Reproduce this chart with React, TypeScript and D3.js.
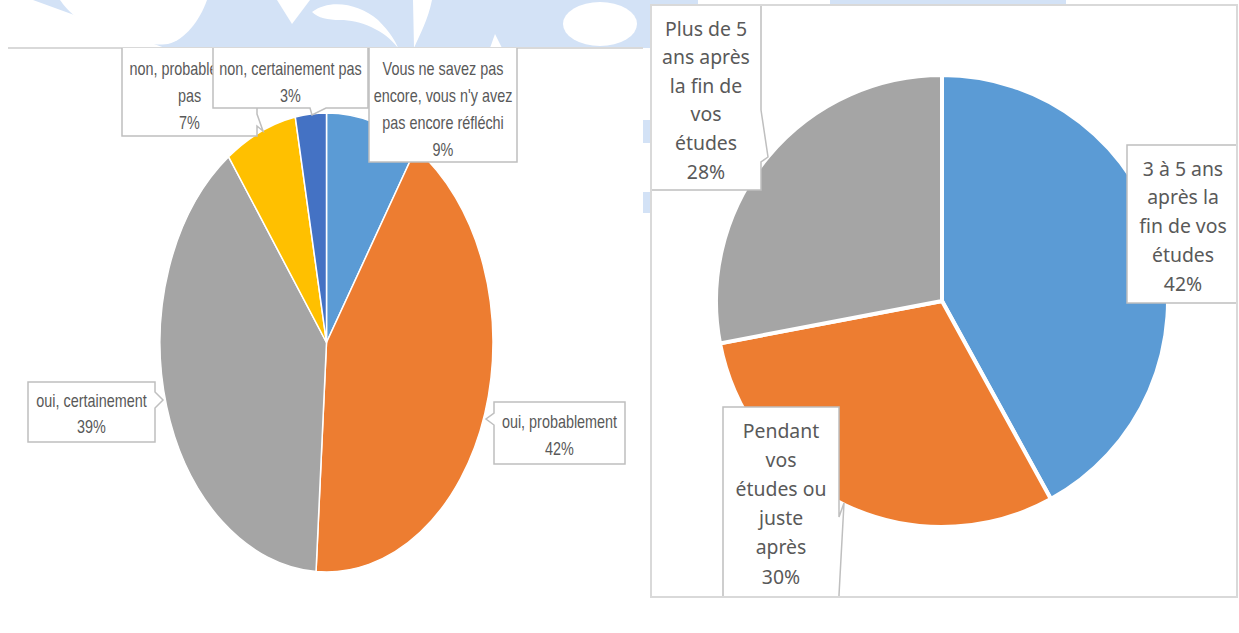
import * as d3 from "d3";

// left chart: "Envisagez-vous ..." answers
const leftCategories = [
  "Vous ne savez pas encore, vous n'y avez pas encore réfléchi",
  "oui, probablement",
  "oui, certainement",
  "non, probablement pas",
  "non, certainement pas",
];
const leftValues = [9, 42, 39, 7, 3];
const leftLabelLines = [
  ["Vous ne savez pas", "encore, vous n'y avez", "pas encore réfléchi"],
  ["oui, probablement"],
  ["oui, certainement"],
  ["non, probablement", "pas"],
  ["non, certainement pas"],
];

// right chart: when
const rightCategories = [
  "3 à 5 ans après la fin de vos études",
  "Pendant vos études ou juste après",
  "Plus de 5 ans après la fin de vos études",
];
const rightValues = [42, 30, 28];
const rightLabelLines = [
  ["3 à 5 ans", "après la", "fin de vos", "études"],
  ["Pendant", "vos", "études ou", "juste", "après"],
  ["Plus de 5", "ans après", "la fin de", "vos", "études"],
];

const leftColors = ["#5b9bd5", "#ed7d31", "#a5a5a5", "#ffc000", "#4472c4"];
const rightColors = ["#5b9bd5", "#ed7d31", "#a5a5a5"];

type Ptr = { side: string; a0: number; a1: number; tx: number; ty: number };
type Box = {
  x: number;
  y: number;
  w: number;
  h: number;
  cy: number;
  lh: number;
  ptr?: Ptr;
  clipW?: number;
};

// callout boxes, same order as the categories
const leftBoxes: Box[] = [
  { x: 369, y: 30, w: 148, h: 132, cy: 68, lh: 27 },
  { x: 494, y: 402, w: 131, h: 62, cy: 421, lh: 27, ptr: { side: "left", a0: 413, a1: 425, tx: 486, ty: 419 } },
  { x: 28, y: 382, w: 127, h: 60, cy: 400, lh: 26, ptr: { side: "right", a0: 392, a1: 408, tx: 163, ty: 400 } },
  { x: 122, y: 30, w: 135, h: 106, cy: 68, lh: 27, ptr: { side: "right", a0: 114, a1: 126, tx: 263, ty: 131 }, clipW: 91 },
  { x: 213, y: 30, w: 155, h: 78, cy: 68, lh: 27, ptr: { side: "bottom", a0: 326, a1: 310, tx: 312, ty: 115 } },
];
const leftOrder = [3, 4, 0, 1, 2];

const rightBoxes: Box[] = [
  { x: 1127, y: 145, w: 112, h: 158, cy: 168, lh: 28.8 },
  { x: 723, y: 407, w: 116, h: 200, cy: 430, lh: 29.2, ptr: { side: "right", a0: 517, a1: 595, tx: 844, ty: 503 } },
  { x: 651, y: -5, w: 110, h: 195, cy: 28, lh: 28.6, ptr: { side: "right", a0: 110, a1: 162, tx: 768, ty: 157 } },
];

function calloutPath(b: Box) {
  const { x, y, w, h, ptr } = b;
  const r = x + w;
  const btm = y + h;
  let d = `M${x},${y}H${r}`;
  if (ptr && ptr.side === "right") d += `V${ptr.a0}L${ptr.tx},${ptr.ty}L${r},${ptr.a1}`;
  d += `V${btm}`;
  if (ptr && ptr.side === "bottom") d += `H${ptr.a0}L${ptr.tx},${ptr.ty}L${ptr.a1},${btm}`;
  d += `H${x}`;
  if (ptr && ptr.side === "left") d += `V${ptr.a1}L${ptr.tx},${ptr.ty}L${x},${ptr.a0}`;
  return d + "Z";
}

const pie = d3
  .pie<number>()
  .sort(null)
  .value((d) => d);

const leftRx = 166.5;
const leftRy = 229.5;
const leftArc = d3.arc<d3.PieArcDatum<number>>().innerRadius(0).outerRadius(leftRx);
const rightArc = d3.arc<d3.PieArcDatum<number>>().innerRadius(0).outerRadius(226);

const WM = "#d3e2f6";
const textColor = "#595959";

function Callout({
  id,
  box,
  lines,
  font,
  size,
  sx,
}: {
  id: string;
  box: Box;
  lines: string[];
  font: string;
  size: number;
  sx: number;
}) {
  const cx = box.x + box.w / 2;
  return (
    <g>
      {box.clipW && (
        <clipPath id={id}>
          <rect x={box.x} y={box.y} width={box.clipW} height={box.h} />
        </clipPath>
      )}
      <path d={calloutPath(box)} fill="#fff" stroke="#bfbfbf" strokeWidth={1.5} />
      <g clipPath={box.clipW ? `url(#${id})` : undefined}>
        {lines.map((t, k) => (
          <text
            key={k}
            transform={`translate(${cx},${box.cy + k * box.lh}) scale(${sx},1)`}
            textAnchor="middle"
            dominantBaseline="central"
            fontFamily={font}
            fontSize={size}
            fill={textColor}
          >
            {t}
          </text>
        ))}
      </g>
    </g>
  );
}

export default function App() {
  const leftArcs = pie(leftValues);
  const rightArcs = pie(rightValues);

  return (
    <svg width={1239} height={633} style={{ position: "absolute", left: 0, top: 0, background: "#fff" }}>
      <defs>
        <clipPath id="clipLeft">
          <rect x={8} y={48} width={635} height={585} />
        </clipPath>
        <clipPath id="clipRight">
          <rect x={652} y={6} width={584} height={590} />
        </clipPath>
      </defs>

      {/* watermark behind the charts */}
      <g fill={WM}>
        <rect x={0} y={0} width={650} height={48} />
        <rect x={643} y={120} width={7} height={23} />
        <rect x={643} y={192} width={7} height={21} />
        <rect x={648} y={0} width={50} height={6} />
        <rect x={830} y={0} width={236} height={6} />
      </g>
      <g fill="#fff">
        <path d="M0,0H33L165,48H0Z" />
        <path d="M60,0C80,30 130,48 168,44C185,40 200,20 207,0Z" />
        <path d="M277,0H310L292,24Z" />
        <path d="M312,12C330,-2 360,4 378,20C390,32 396,42 398,48C385,30 360,20 340,20C328,20 318,18 312,12Z" />
        <path d="M413,0H432C428,20 420,34 414,48Z" />
        <path d="M490,48L495,34L502,48Z" />
        <ellipse cx={600} cy={24} rx={37} ry={22} />
        <rect x={643} y={48} width={7} height={72} />
      </g>

      {/* left chart */}
      <rect x={8} y={48} width={635} height={585} fill="#fff" />
      <line x1={8} x2={643} y1={48} y2={48} stroke="#d9d9d9" strokeWidth={2} />
      <g clipPath="url(#clipLeft)">
        <g transform={`translate(326.5,342.5) scale(1,${leftRy / leftRx})`}>
          {leftArcs.map((a, i) => (
            <path
              key={leftCategories[i]}
              d={leftArc(a) || ""}
              fill={leftColors[i]}
              stroke="#fff"
              strokeWidth={1.5}
              vectorEffect="non-scaling-stroke"
            />
          ))}
        </g>
        {leftOrder.map((i) => (
          <Callout
            key={i}
            id={`lc${i}`}
            box={leftBoxes[i]}
            lines={[...leftLabelLines[i], `${leftValues[i]}%`]}
            font="'Liberation Sans', Arial, sans-serif"
            size={18}
            sx={0.8}
          />
        ))}
      </g>

      {/* right chart */}
      <rect x={651} y={5} width={586} height={592} fill="#fff" stroke="#d9d9d9" strokeWidth={2} />
      <g clipPath="url(#clipRight)">
        <g transform="translate(942,301)">
          {rightArcs.map((a, i) => (
            <path key={rightCategories[i]} d={rightArc(a) || ""} fill={rightColors[i]} stroke="#fff" strokeWidth={4} />
          ))}
        </g>
        {rightBoxes.map((b, i) => (
          <Callout
            key={i}
            id={`rc${i}`}
            box={b}
            lines={[...rightLabelLines[i], `${rightValues[i]}%`]}
            font="'Noto Sans', sans-serif"
            size={20}
            sx={0.97}
          />
        ))}
      </g>
    </svg>
  );
}
